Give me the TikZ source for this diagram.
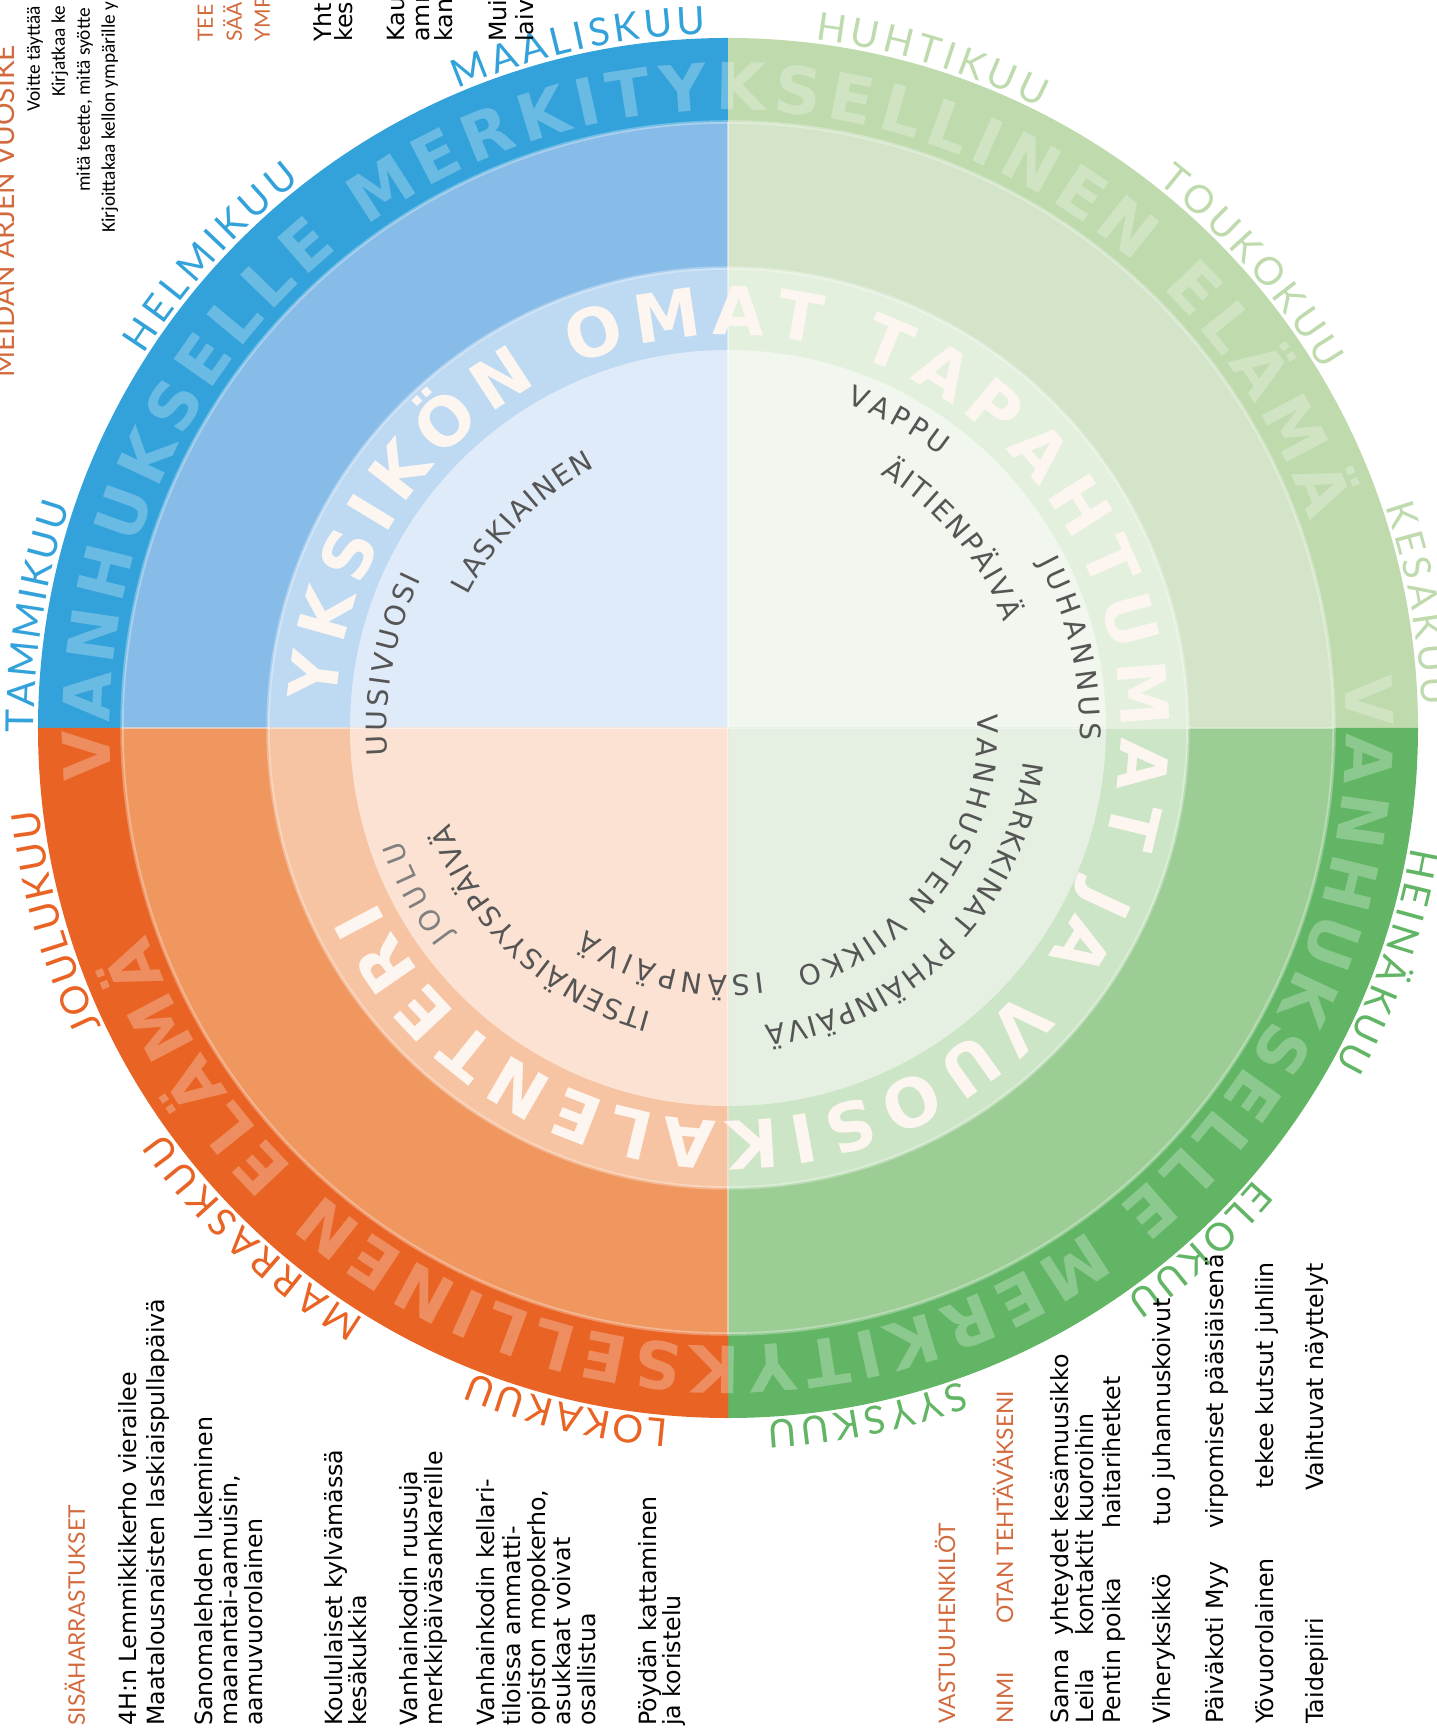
\documentclass[tikz,border=0pt]{standalone}
\usepackage{fontspec}
\usepackage{tikz}
\usetikzlibrary{decorations.text}

\newfontfamily\dejavu{DejaVu Sans}
\newfontfamily\latofont{Lato}
\newfontfamily\carlito{Carlito}

\definecolor{blueD}{RGB}{51,162,218}
\definecolor{blueM}{RGB}{135,187,232}
\definecolor{blueL}{RGB}{190,217,242}
\definecolor{blueI}{RGB}{223,235,249}
\definecolor{lgD}{RGB}{191,219,174}
\definecolor{lgM}{RGB}{211,228,200}
\definecolor{lgL}{RGB}{228,240,222}
\definecolor{lgI}{RGB}{241,247,238}
\definecolor{grD}{RGB}{98,181,101}
\definecolor{grM}{RGB}{156,205,148}
\definecolor{grL}{RGB}{204,229,199}
\definecolor{grI}{RGB}{229,240,227}
\definecolor{orD}{RGB}{233,100,36}
\definecolor{orM}{RGB}{240,151,96}
\definecolor{orL}{RGB}{247,196,163}
\definecolor{orI}{RGB}{252,226,210}
\definecolor{headorange}{RGB}{210,106,62}
\definecolor{evgray}{RGB}{85,85,85}
\definecolor{cream}{RGB}{253,246,240}

\newcommand{\ringfont}{\dejavu\bfseries\fontsize{37}{40}\selectfont}
\newcommand{\innerfont}{\dejavu\bfseries\fontsize{38}{40}\selectfont}
\newcommand{\eventfont}{\dejavu\fontsize{16}{18}\selectfont}
\newcommand{\monthfont}{\latofont\fontsize{22}{24}\selectfont}

% teksti kaarelle: säde, alkukulma, loppukulma, muotoilu, teksti
\newcommand{\ringtext}[5]{%
  \path[decorate, decoration={text along path, text align={fit to path}, text={|#4|#5}}]
    (#2:#1) arc[start angle=#2, end angle=#3, radius=#1];}

\tikzset{
  handnote/.style={rotate=90, anchor=base west, inner sep=0pt, font={\dejavu\fontsize{13.5}{15}\selectfont}},
  headtext/.style={rotate=90, anchor=base west, inner sep=0pt, text=headorange, font={\latofont\fontsize{13}{15}\selectfont}},
  guidetext/.style={rotate=90, anchor=base west, inner sep=0pt, font={\carlito\fontsize{11}{13}\selectfont}}
}

\begin{document}
\begin{tikzpicture}[x=0.2mm, y=0.2mm]
% säteet
\def\rOut{690}
\def\rDark{606}
\def\rMid{460}
\def\rIn{378}

\useasboundingbox (-728,-1001) rectangle (709,728);
\clip (-728,-1001) rectangle (709,728);

% neljännekset
\foreach \a/\cd/\cm/\cl/\ci in {90/blueD/blueM/blueL/blueI, 0/lgD/lgM/lgL/lgI, -90/grD/grM/grL/grI, 180/orD/orM/orL/orI}{
  \fill[fill=\cd] (0,0) -- (\a:\rOut) arc[start angle=\a, end angle=\a+90, radius=\rOut] -- cycle;
  \fill[fill=\cm] (0,0) -- (\a:\rDark) arc[start angle=\a, end angle=\a+90, radius=\rDark] -- cycle;
  \fill[fill=\cl] (0,0) -- (\a:\rMid) arc[start angle=\a, end angle=\a+90, radius=\rMid] -- cycle;
  \fill[fill=\ci] (0,0) -- (\a:\rIn) arc[start angle=\a, end angle=\a+90, radius=\rIn] -- cycle;
}

% vaaleat reunat
\foreach \r in {\rDark,\rMid}
  \draw[white, draw opacity=0.3, line width=0.7mm] (0,0) circle[radius=\r];
\draw[white, draw opacity=0.45, line width=0.25mm] (-\rDark,0) -- (\rDark,0) (0,-\rDark) -- (0,\rDark);

% ulkokehän teksti
\begin{scope}[fill opacity=0.27]
\ringtext{618}{184.8}{19.6}{\ringfont\color{white}}{VANHUKSELLE MERKITYKSELLINEN ELÄMÄ}
\ringtext{618}{4.8}{-160.4}{\ringfont\color{white}}{VANHUKSELLE MERKITYKSELLINEN ELÄMÄ}
\end{scope}

% sisäkehän teksti
\ringtext{393}{176.3}{-154}{\innerfont\color{cream}}{YKSIKÖN OMAT TAPAHTUMAT JA VUOSIKALENTERI}

% juhlapäivät
\ringtext{341}{184.6}{154}{\eventfont\color{evgray}}{UUSIVUOSI}
\ringtext{292}{153}{117}{\eventfont\color{evgray}}{LASKIAINEN}
\ringtext{345}{70}{52}{\eventfont\color{evgray}}{VAPPU}
\ringtext{296}{59}{21}{\eventfont\color{evgray}}{ÄITIENPÄIVÄ}
\ringtext{352}{28}{-2}{\eventfont\color{evgray}}{JUHANNUS}
\ringtext{297}{-6.5}{-41.5}{\eventfont\color{evgray}}{MARKKINAT}
\ringtext{250}{3}{-74}{\eventfont\color{evgray}}{VANHUSTEN VIIKKO}
\ringtext{300}{-44}{-83}{\eventfont\color{evgray}}{PYHÄINPÄIVÄ}
\ringtext{247}{-82}{-125}{\eventfont\color{evgray}}{ISÄNPÄIVÄ}
\ringtext{294}{-105}{-161}{\eventfont\color{evgray}}{ITSENÄISYYSPÄIVÄ}
\ringtext{345}{-143}{-161}{\eventfont\color{gray}}{JOULU}

% kuukaudet
\ringtext{694}{180.4}{161.3}{\monthfont\color{blueD}}{TAMMIKUU}
\ringtext{694}{147.4}{128}{\monthfont\color{blueD}}{HELMIKUU}
\ringtext{694}{112.9}{91.8}{\monthfont\color{blueD}}{MAALISKUU}
\ringtext{694}{82.8}{63.3}{\monthfont\color{lgD}}{HUHTIKUU}
\ringtext{694}{51.8}{31}{\monthfont\color{lgD}}{TOUKOKUU}
\ringtext{694}{18.6}{1.8}{\monthfont\color{lgD}}{KESÄKUU}
\ringtext{694}{-9.9}{-29}{\monthfont\color{grD}}{HEINÄKUU}
\ringtext{694}{-40.6}{-55.1}{\monthfont\color{grD}}{ELOKUU}
\ringtext{694}{-70.3}{-86.8}{\monthfont\color{grD}}{SYYSKUU}
\ringtext{694}{-94.9}{-111.7}{\monthfont\color{orD}}{LOKAKUU}
\ringtext{694}{-121.6}{-144.4}{\monthfont\color{orD}}{MARRASKUU}
\ringtext{694}{-154.5}{-173.3}{\monthfont\color{orD}}{JOULUKUU}

% ohjeteksti vasemmalla ylhäällä
\node[headtext, font={\latofont\fontsize{16}{18}\selectfont}] (title) at (-713,350) {MEIDÄN ARJEN VUOSIKE};
\node[guidetext] (guide1) at (-688,616) {Voitte täyttää};
\node[guidetext] (guide2) at (-663,631) {Kirjatkaa ke};
\node[guidetext] (guide3) at (-638,536) {mitä teette, mitä syötte};
\node[guidetext] (guide4) at (-613,495) {Kirjoittakaa kellon ympärille y};

% ylälaita
\node[headtext, font={\latofont\fontsize{12}{14}\selectfont}] (top1) at (-515,686) {TEE};
\node[headtext, font={\latofont\fontsize{12}{14}\selectfont}] (top2) at (-486,686) {SÄÄ};
\node[headtext, font={\latofont\fontsize{12}{14}\selectfont}] (top3) at (-458,686) {YMP};
\foreach \x/\t [count=\i] in {-396/Yht, -375/kes, -323/Kau, -298/amm, -275/kan, -221/Mui, -195/laiv}
  \node[handnote] (frag\i) at (\x,686) {\t};

% sisäharrastukset
\node[headtext] (hobbyhead) at (-643,-998) {SISÄHARRASTUKSET};
\foreach \x/\t [count=\i] in {-591/{4H:n Lemmikkikerho vierailee}, -563/{Maatalousnaisten laskiaispullapäivä},
    -515/{Sanomalehden lukeminen}, -490/{maanantai-aamuisin,}, -465/{aamuvuorolainen},
    -385/{Koululaiset kylvämässä}, -361/{kesäkukkia},
    -310/{Vanhainkodin ruusuja}, -285/{merkkipäiväsankareille},
    -233/{Vanhainkodin kellari-}, -208/{tiloissa ammatti-}, -183/{opiston mopokerho,}, -158/{asukkaat voivat}, -133/{osallistua},
    -72/{Pöydän kattaminen}, -48/{ja koristelu}}
  \node[handnote] (hobby\i) at (\x,-998) {\t};

% vastuuhenkilöt
\node[headtext] (resphead) at (227,-996) {VASTUUHENKILÖT};
\node[headtext] (namehead) at (285,-996) {NIMI};
\node[headtext] (taskhead) at (285,-896) {OTAN TEHTÄVÄKSENI};
\foreach \x/\n/\y/\t [count=\i] in {340/Sanna/-908/{yhteydet kesämuusikko}, 365/Leila/-908/{kontaktit kuoroihin},
    392/{Pentin poika}/-801/haitarihetket, 442/Viheryksikkö/-798/{tuo juhannuskoivut},
    495/{Päiväkoti Myy}/-801/{virpomiset pääsiäisenä}, 545/Yövuorolainen/-761/{tekee kutsut juhliin},
    595/Taidepiiri/-763/{Vaihtuvat näyttelyt}}{
  \node[handnote] (name\i) at (\x,-996) {\n};
  \node[handnote] (task\i) at (\x,\y) {\t};
}
\end{tikzpicture}
\end{document}
